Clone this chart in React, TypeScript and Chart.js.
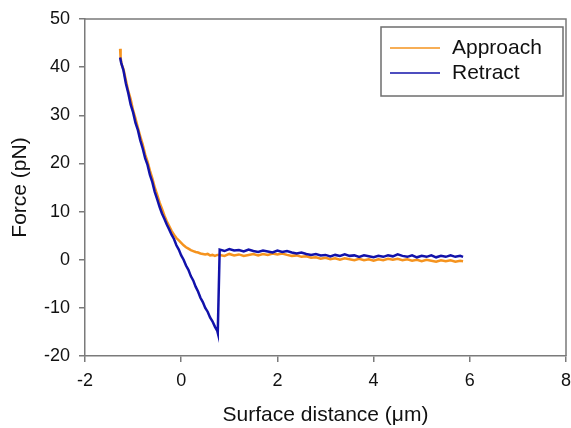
import React, { useEffect, useRef } from "react";
import { Chart, registerables } from "chart.js";

Chart.register(...registerables);

// ---- Data ----
const approachX = [
  -1.27, -1.26, -1.24, -1.2, -1.15, -1.1, -1.05, -1.0, -0.95, -0.9, -0.85, -0.8, -0.75, -0.7, -0.65, -0.6,
  -0.55, -0.5, -0.45, -0.4, -0.35, -0.3, -0.25, -0.2, -0.15, -0.1, -0.05, 0.0, 0.05, 0.1, 0.15, 0.2, 0.25,
  0.3, 0.35, 0.4, 0.45, 0.5, 0.55, 0.6, 0.65, 0.7, 0.75,
  0.8, 0.9, 1.0, 1.1, 1.2, 1.3, 1.4, 1.5, 1.6, 1.7, 1.8, 1.9, 2.0, 2.1, 2.2, 2.3, 2.4, 2.5, 2.6, 2.7, 2.8,
  2.9, 3.0, 3.1, 3.2, 3.3, 3.4, 3.5, 3.6, 3.7, 3.8, 3.9, 4.0, 4.1, 4.2, 4.3, 4.4, 4.5, 4.6, 4.7, 4.8, 4.9,
  5.0, 5.1, 5.2, 5.3, 5.4, 5.5, 5.6, 5.7, 5.8, 5.86,
];
const approachY = [
  43.8, 42.0, 40.6, 39.6, 37.3, 35.0, 33.3, 31.0, 29.3, 27.4, 25.6, 23.9, 21.9, 20.4, 18.5, 16.9,
  15.0, 13.5, 11.9, 10.6, 9.2, 8.0, 7.0, 6.0, 5.2, 4.5, 4.0, 3.5, 3.0, 2.6, 2.3, 2.0, 1.8,
  1.6, 1.5, 1.3, 1.2, 1.1, 1.2, 0.9, 1.0, 0.8, 1.0,
  1.0, 0.8, 1.2, 0.9, 1.1, 0.8, 1.0, 1.2, 0.9, 1.2, 1.0, 1.3, 1.1, 1.3, 1.0, 0.8, 0.9, 0.6, 0.7, 0.4, 0.5,
  0.2, 0.4, 0.1, 0.3, 0.0, 0.3, 0.1, -0.1, 0.2, -0.1, 0.1, -0.2, 0.1, -0.1, 0.2, 0.0, 0.2, -0.1, 0.1, -0.2, 0.0,
  -0.3, 0.0, -0.2, -0.4, -0.1, -0.3, -0.1, -0.4, -0.2, -0.3,
];

const retractX = [
  -1.27, -1.25, -1.2, -1.15, -1.1, -1.05, -1.0, -0.95, -0.9, -0.85, -0.8, -0.75, -0.7, -0.65, -0.6, -0.55,
  -0.5, -0.45, -0.4, -0.35, -0.3, -0.25, -0.2, -0.15, -0.1, -0.05, 0.0, 0.05, 0.1, 0.15, 0.2, 0.25, 0.3,
  0.35, 0.4, 0.45, 0.5, 0.55, 0.6, 0.65, 0.7, 0.75, 0.76,
  0.8, 0.9, 1.0, 1.1, 1.2, 1.3, 1.4, 1.5, 1.6, 1.7, 1.8, 1.9, 2.0, 2.1, 2.2, 2.3, 2.4, 2.5, 2.6, 2.7, 2.8,
  2.9, 3.0, 3.1, 3.2, 3.3, 3.4, 3.5, 3.6, 3.7, 3.8, 3.9, 4.0, 4.1, 4.2, 4.3, 4.4, 4.5, 4.6, 4.7, 4.8, 4.9,
  5.0, 5.1, 5.2, 5.3, 5.4, 5.5, 5.6, 5.7, 5.8, 5.86,
];
const retractY = [
  42.0, 41.0, 39.3, 36.6, 34.6, 32.2, 30.6, 28.4, 26.9, 24.8, 23.1, 21.1, 19.7, 17.6, 16.1, 14.1,
  12.6, 11.0, 9.6, 8.5, 7.3, 6.3, 5.2, 4.3, 3.0, 2.1, 0.9, 0.0, -1.2, -2.1, -3.4, -4.3, -5.6,
  -6.6, -7.9, -8.8, -10.0, -10.8, -12.0, -12.8, -13.9, -14.8, -15.2,
  2.1, 1.8, 2.2, 1.9, 2.0, 1.7, 2.1, 1.8, 1.6, 1.9, 1.7, 1.5, 1.9, 1.6, 1.8, 1.5, 1.3, 1.5, 1.2, 1.0, 1.2,
  0.9, 1.0, 0.7, 1.0, 0.8, 1.1, 0.8, 0.9, 0.6, 0.9, 0.7, 0.5, 0.8, 0.6, 0.9, 0.7, 1.1, 0.8, 0.6, 0.9, 0.5,
  0.8, 0.6, 0.9, 0.5, 0.8, 0.6, 0.9, 0.6, 0.8, 0.6,
];

const seriesNames = ["Approach", "Retract"];
const seriesColors = ["#F5931E", "#1212AA"];
const xTitle = "Surface distance (\u03BCm)";
const yTitle = "Force (pN)";

const FONT = "'Liberation Sans', Arial, Helvetica, sans-serif";
const AXIS_GRAY = "#7a7a7a";

const framePlugin = {
  id: "frameAndLegend",
  afterDraw(chart: any) {
    const { ctx, chartArea } = chart;
    ctx.save();
    // box around plot
    ctx.strokeStyle = AXIS_GRAY;
    ctx.lineWidth = 1.5;
    ctx.beginPath();
    ctx.moveTo(chartArea.left, chartArea.top);
    ctx.lineTo(chartArea.right, chartArea.top);
    ctx.lineTo(chartArea.right, chartArea.bottom);
    ctx.stroke();

    // legend box
    const bx = 381, by = 27, bw = 182, bh = 69;
    ctx.fillStyle = "#ffffff";
    ctx.fillRect(bx, by, bw, bh);
    ctx.strokeStyle = "#6e6e6e";
    ctx.lineWidth = 1.5;
    ctx.strokeRect(bx, by, bw, bh);
    const rows = [48, 73];
    chart.data.datasets.forEach((ds: any, i: number) => {
      const y = rows[i];
      ctx.strokeStyle = ds.borderColor;
      ctx.lineWidth = 1.5;
      ctx.beginPath();
      ctx.moveTo(390, y);
      ctx.lineTo(440, y);
      ctx.stroke();
      ctx.fillStyle = "#111";
      ctx.font = `21px ${FONT}`;
      ctx.textBaseline = "middle";
      ctx.textAlign = "left";
      ctx.fillText(ds.label, 452, y);
    });
    ctx.restore();
  },
};

export default function App() {
  const ref = useRef<HTMLCanvasElement>(null);

  useEffect(() => {
    document.body.style.margin = "0";
    const canvas = ref.current!;
    const mk = (xs: number[], ys: number[]) => xs.map((x, i) => ({ x, y: ys[i] }));
    const chart = new Chart(canvas, {
      type: "line",
      data: {
        datasets: [
          {
            label: seriesNames[0],
            data: mk(approachX, approachY),
            borderColor: seriesColors[0],
            backgroundColor: seriesColors[0],
            borderWidth: 2.5,
            pointRadius: 0,
            tension: 0,
            order: 2,
          },
          {
            label: seriesNames[1],
            data: mk(retractX, retractY),
            borderColor: seriesColors[1],
            backgroundColor: seriesColors[1],
            borderWidth: 2.5,
            pointRadius: 0,
            tension: 0,
            order: 1,
          },
        ],
      },
      options: {
        animation: false,
        responsive: false,
        devicePixelRatio: 1,
        layout: { padding: { top: 19, right: 5, left: 0, bottom: 0 } },
        plugins: { legend: { display: false }, tooltip: { enabled: false } },
        scales: {
          x: {
            type: "linear",
            min: -2,
            max: 8,
            ticks: { stepSize: 2, color: "#111", padding: 8, font: { family: FONT, size: 18 } },
            grid: { display: true, drawOnChartArea: false, drawTicks: true, tickLength: 6, color: AXIS_GRAY, lineWidth: 1.5 },
            border: { display: true, color: AXIS_GRAY, width: 1.5 },
            title: { display: true, text: xTitle, color: "#111", font: { family: FONT, size: 21 }, padding: { top: 4, bottom: 0 } },
            afterFit: (s: any) => {
              s.height = 72;
              s.paddingRight = 0;
              s.paddingLeft = 0;
            },
          },
          y: {
            type: "linear",
            min: -20,
            max: 50,
            ticks: { stepSize: 10, color: "#111", padding: 9, font: { family: FONT, size: 18 } },
            grid: { display: true, drawOnChartArea: false, drawTicks: true, tickLength: 6, color: AXIS_GRAY, lineWidth: 1.5 },
            border: { display: true, color: AXIS_GRAY, width: 1.5 },
            title: { display: true, text: yTitle, color: "#111", font: { family: FONT, size: 21 }, padding: { top: 8, bottom: 0 } },
            afterFit: (s: any) => {
              s.width = 85;
              s.paddingTop = 0;
              s.paddingBottom = 0;
            },
          },
        },
      },
      plugins: [framePlugin],
    });
    return () => chart.destroy();
  }, []);

  return (
    <div style={{ position: "absolute", left: 0, top: 0, width: 571, height: 428, background: "#fff" }}>
      <canvas ref={ref} width={571} height={428} style={{ display: "block" }} />
    </div>
  );
}
